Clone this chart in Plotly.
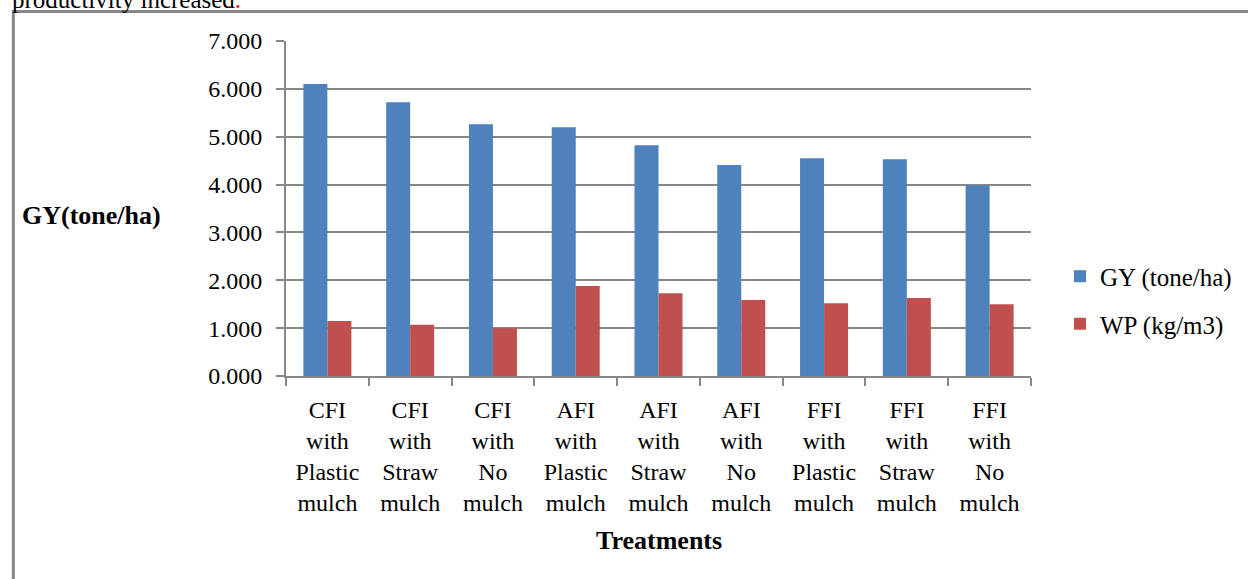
import plotly.graph_objects as go

categories = [
    "CFI<br>with<br>Plastic<br>mulch", "CFI<br>with<br>Straw<br>mulch", "CFI<br>with<br>No<br>mulch",
    "AFI<br>with<br>Plastic<br>mulch", "AFI<br>with<br>Straw<br>mulch", "AFI<br>with<br>No<br>mulch",
    "FFI<br>with<br>Plastic<br>mulch", "FFI<br>with<br>Straw<br>mulch", "FFI<br>with<br>No<br>mulch",
]
gy_values = [6.10, 5.72, 5.26, 5.20, 4.82, 4.41, 4.55, 4.53, 3.98]
wp_values = [1.15, 1.07, 1.00, 1.88, 1.73, 1.59, 1.52, 1.63, 1.50]
y_ticks = [0, 1, 2, 3, 4, 5, 6, 7]

W, H = 1248, 579
L, R, T, B = 286, 216, 41, 203
PW, PH = W - L - R, H - T - B

def px(x):
    return (x - L) / PW

def py(y):
    return (H - B - y) / PH

FONT = "Liberation Serif"
GREY = "#878787"

fig = go.Figure()
fig.add_trace(go.Bar(x=categories, y=gy_values, name="GY (tone/ha)",
                     marker=dict(color="#4F81BD", line=dict(width=0)), legendgroup="a"))
fig.add_trace(go.Bar(x=categories, y=wp_values, name="WP (kg/m3)",
                     marker=dict(color="#C0504D", line=dict(width=0)), legendgroup="b"))

fig.update_layout(
    width=W, height=H,
    margin=dict(l=L, r=R, t=T, b=B),
    paper_bgcolor="white", plot_bgcolor="white",
    barmode="group", bargap=0.42, bargroupgap=0,
    font=dict(family=FONT, size=25, color="black"),
    legend=dict(x=px(1060), y=py(300), xanchor="left", yanchor="middle",
                font=dict(family=FONT, size=25), tracegroupgap=12,
                bgcolor="rgba(0,0,0,0)"),
    showlegend=True,
)
fig.update_xaxes(
    showline=True, linecolor=GREY, linewidth=2,
    ticks="outside", tickson="boundaries", ticklen=8, tickcolor=GREY, tickwidth=2,
    showgrid=False, tickfont=dict(family=FONT, size=24), tickangle=0,
    ticklabelstandoff=11,
)
fig.update_yaxes(
    range=[0, 7], tickvals=y_ticks, tickformat=".3f",
    showline=True, linecolor=GREY, linewidth=2,
    ticks="outside", ticklen=8, tickcolor=GREY, tickwidth=2,
    showgrid=True, gridcolor=GREY, gridwidth=2,
    tickfont=dict(family=FONT, size=24), ticklabelstandoff=9,
    zeroline=False,
)

# outer frame lines
fig.add_shape(type="line", xref="paper", yref="paper",
              x0=px(12), x1=px(1250), y0=py(11.5), y1=py(11.5),
              line=dict(color=GREY, width=3))
fig.add_shape(type="line", xref="paper", yref="paper",
              x0=px(13), x1=px(13), y0=py(10), y1=py(585),
              line=dict(color=GREY, width=3))

fig.add_annotation(text="productivity increased<span style='color:red'>.</span>",
                   xref="paper", yref="paper", x=px(11), y=py(14),
                   xanchor="left", yanchor="bottom", showarrow=False,
                   font=dict(family=FONT, size=25, color="black"), borderpad=0)
fig.add_annotation(text="<b>GY(tone/ha)</b>", xref="paper", yref="paper",
                   x=px(20), y=py(215), xanchor="left", yanchor="middle",
                   showarrow=False, font=dict(family=FONT, size=26, color="black"))
fig.add_annotation(text="<b>Treatments</b>", xref="paper", yref="paper",
                   x=px(660), y=py(540), xanchor="center", yanchor="middle",
                   showarrow=False, font=dict(family=FONT, size=26, color="black"))

fig.write_html("out.html", config={"displayModeBar": False},
               post_script="document.body.style.margin='0';")
